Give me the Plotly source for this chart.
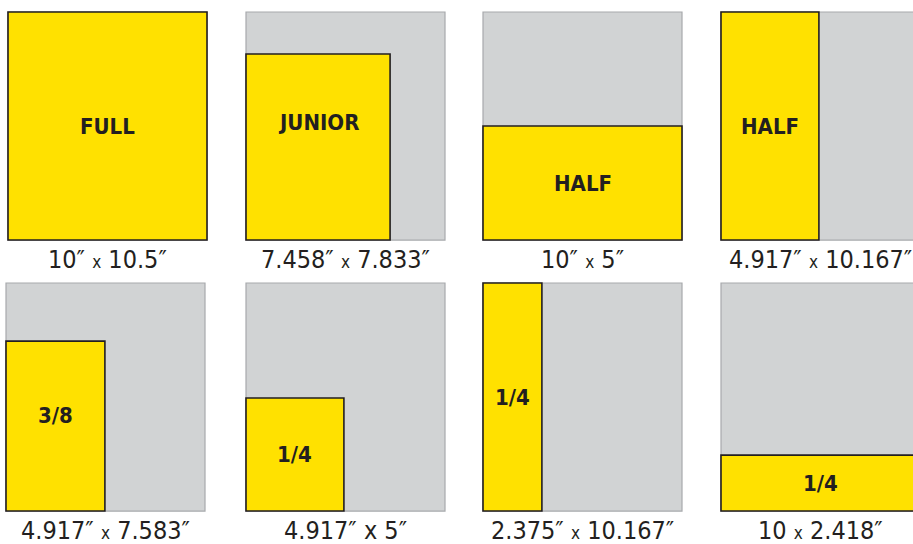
import plotly.graph_objects as go

# ---- data (units: page width = 10) ----
ad_names = ["FULL", "JUNIOR", "HALF", "HALF", "3/8", "1/4", "1/4", "1/4"]
ad_captions = [
    "10″ {x} 10.5″",
    "7.458″ {x} 7.833″",
    "10″ {x} 5″",
    "4.917″ {x} 10.167″",
    "4.917″ {x} 7.583″",
    "4.917″ x 5″",
    "2.375″ {x} 10.167″",
    "10 {x} 2.418″",
]
page_w = 10.0
page_h = 11.46
ad_w = [10.0, 7.24, 10.0, 4.92, 4.97, 4.92, 2.96, 10.0]
ad_h = [11.46, 9.35, 5.73, 11.46, 8.54, 5.68, 11.46, 2.81]
label_frac = [0.5, 0.63, 0.5, 0.5, 0.56, 0.5, 0.5, 0.5]

# ---- layout / style ----
W, H = 913, 544
PX = 19.9          # pixels per unit
PAD = 2            # px padding so borders are not clipped
lefts = [8, 246, 483, 721, 6, 246, 483, 721]
tops = [12, 12, 12, 12, 283, 283, 283, 283]

GRAY = "#d1d3d4"
GRAY_LINE = "#a7a9ac"
YELLOW = "#ffe100"
INK = "#231f20"
FONT = "DejaVu Sans Condensed, Liberation Sans Narrow, sans-serif"
SMALLX = '<span style="font-size:17px">x</span>'

fig = go.Figure()
layout = {}
for i in range(len(ad_names)):
    sfx = "" if i == 0 else str(i + 1)
    x0px = lefts[i] - PAD
    x1px = min(lefts[i] + page_w * PX + PAD, W)
    y0px = tops[i] - PAD
    y1px = tops[i] + page_h * PX + PAD
    xr = [-PAD / PX, (x1px - lefts[i]) / PX]
    yr = [-PAD / PX, page_h + PAD / PX]
    layout["xaxis" + sfx] = dict(domain=[x0px / W, x1px / W], range=xr, visible=False,
                                 anchor="y" + sfx, fixedrange=True)
    layout["yaxis" + sfx] = dict(domain=[1 - y1px / H, 1 - y0px / H], range=yr, visible=False,
                                 anchor="x" + sfx, fixedrange=True)
    xref, yref = "x" + sfx, "y" + sfx

    fig.add_trace(go.Scatter(x=[None], y=[None], xaxis=xref, yaxis=yref,
                             showlegend=False, hoverinfo="skip"))

    # page
    fig.add_shape(type="rect", xref=xref, yref=yref, x0=0, y0=0, x1=page_w, y1=page_h,
                  fillcolor=GRAY, line=dict(color=GRAY_LINE, width=1.2), layer="below")
    # ad
    fig.add_shape(type="rect", xref=xref, yref=yref, x0=0, y0=0, x1=ad_w[i], y1=ad_h[i],
                  fillcolor=YELLOW, line=dict(color=INK, width=1.6), layer="below")
    # ad label
    fig.add_annotation(xref=xref, yref=yref, x=ad_w[i] / 2, y=ad_h[i] * label_frac[i],
                       text="<b>" + ad_names[i] + "</b>", showarrow=False,
                       font=dict(family=FONT, size=22, color=INK),
                       xanchor="center", yanchor="middle")
    # caption
    fig.add_annotation(xref=xref, yref=yref + " domain", x=page_w / 2, y=0,
                       text=ad_captions[i].format(x=SMALLX), showarrow=False,
                       font=dict(family=FONT, size=25, color=INK),
                       xanchor="center", yanchor="middle", yshift=-17)

fig.update_layout(
    width=W, height=H,
    margin=dict(l=0, r=0, t=0, b=0),
    paper_bgcolor="white", plot_bgcolor="white",
    showlegend=False,
    **layout,
)

fig.write_html("out.html", config={"displayModeBar": False},
               post_script="document.body.style.margin='0';")
